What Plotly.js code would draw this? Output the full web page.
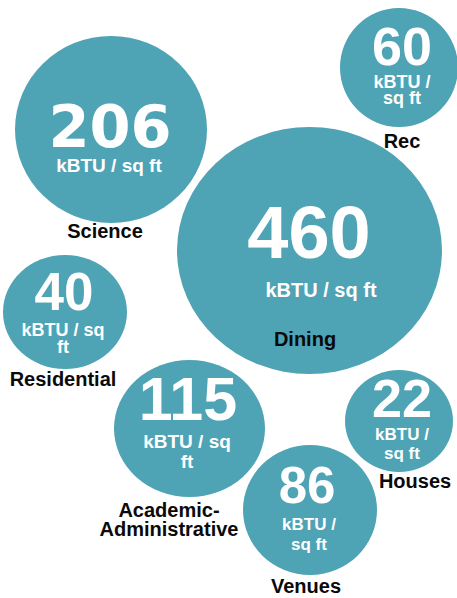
<!DOCTYPE html>
<html><head><meta charset="utf-8">
<script src="https://cdn.plot.ly/plotly-3.0.1.min.js"></script>
<style>html,body{margin:0;padding:0;background:#fff;overflow:hidden}</style>
</head><body><div id="chart" style="width:457px;height:598px"></div>
<script>
// ---- data ----
const categories = ['Science', 'Rec', 'Dining', 'Residential', 'Academic-Administrative', 'Houses', 'Venues'];
const values = [206, 60, 460, 40, 115, 22, 86];
const unitLabel = 'kBTU / sq ft';

// ---- layout (pixel coordinates, y downward) ----
const cx = [111, 399, 309.5, 65, 189.5, 399, 310];
const cy = [129.5, 67.5, 250.5, 312, 428.5, 421, 510];
const rx = [96, 59, 132.5, 62, 75.5, 54, 67];
const ry = [93.5, 59.5, 123.5, 57, 68.5, 51, 65];

const numX = [110, 402, 309, 64, 188, 402, 307];
const numBase = [147, 65, 258, 310, 420, 417, 503];
const numSize = [59, 54, 74, 53, 61, 54, 51];
const numFamily = ['DejaVu Sans', 'Liberation Sans', 'Liberation Sans', 'Liberation Sans', 'Liberation Sans', 'Liberation Sans', 'Liberation Sans'];

const unitX = [109, 402, 321, 63, 187, 402, 309];
const unitBreak = [0, 6, 0, 9, 9, 6, 6];
const unitBase = [172, 88, 297, 336, 448, 440, 530];
const unitGap = [0, 16, 0, 17, 20, 19, 20];
const unitSize = [19, 18, 20, 18, 19, 17, 17];

const labelX = [105, 402, 305, 63, 169, 415, 306];
const labelBreak = [0, 0, 0, 0, 9, 0, 0];
const labelBase = [238, 148, 346, 386, 517, 488, 593];
const labelGap = [0, 0, 0, 0, 19, 0, 0];
const labelSize = 20;

const bubbleColor = '#4ea3b5';

// ---- build ----
const shapes = categories.map((c, i) => ({
  type: 'circle', xref: 'x', yref: 'y', layer: 'below',
  x0: cx[i] - rx[i], x1: cx[i] + rx[i], y0: cy[i] - ry[i], y1: cy[i] + ry[i],
  fillcolor: bubbleColor, line: {width: 0}
}));

function splitAt(str, idx) {
  if (!idx) return [str];
  return [str.slice(0, idx).trim(), str.slice(idx).trim()];
}
// single-line plotly text, middle center: baseline = y + 0.25*fs
const yFor = (base, fs) => base - 0.25 * fs;

const traces = [];
// numbers, grouped by font family
[...new Set(numFamily)].forEach(fam => {
  const idx = values.map((v, i) => i).filter(i => numFamily[i] === fam);
  traces.push({
    type: 'scatter', mode: 'text', cliponaxis: false, hoverinfo: 'skip',
    x: idx.map(i => numX[i]), y: idx.map(i => yFor(numBase[i], numSize[i])),
    text: idx.map(i => String(values[i])),
    textposition: 'middle center',
    textfont: {family: fam, size: idx.map(i => numSize[i]), color: '#ffffff', weight: 'bold'}
  });
});
// unit lines
const ux = [], uy = [], ut = [], us = [];
values.forEach((v, i) => {
  splitAt(unitLabel, unitBreak[i]).forEach((line, k) => {
    ux.push(unitX[i]); uy.push(yFor(unitBase[i] + k * unitGap[i], unitSize[i]));
    ut.push(line); us.push(unitSize[i]);
  });
});
traces.push({
  type: 'scatter', mode: 'text', cliponaxis: false, hoverinfo: 'skip',
  x: ux, y: uy, text: ut, textposition: 'middle center',
  textfont: {family: 'Liberation Sans', size: us, color: '#ffffff', weight: 'bold'}
});
// category labels
const lx = [], ly = [], lt = [];
categories.forEach((c, i) => {
  splitAt(c, labelBreak[i]).forEach((line, k) => {
    lx.push(labelX[i]); ly.push(yFor(labelBase[i] + k * labelGap[i], labelSize)); lt.push(line);
  });
});
traces.push({
  type: 'scatter', mode: 'text', cliponaxis: false, hoverinfo: 'skip',
  x: lx, y: ly, text: lt, textposition: 'middle center',
  textfont: {family: 'Liberation Sans', size: labelSize, color: '#0a0a0a', weight: 'bold'}
});

Plotly.newPlot('chart', traces, {
  width: 457, height: 598,
  margin: {l: 0, r: 0, t: 0, b: 0, pad: 0},
  paper_bgcolor: '#ffffff', plot_bgcolor: '#ffffff',
  showlegend: false,
  xaxis: {range: [0, 457], visible: false, fixedrange: true},
  yaxis: {range: [598, 0], visible: false, fixedrange: true},
  shapes: shapes
}, {staticPlot: true, displayModeBar: false});
</script>
</body></html>
